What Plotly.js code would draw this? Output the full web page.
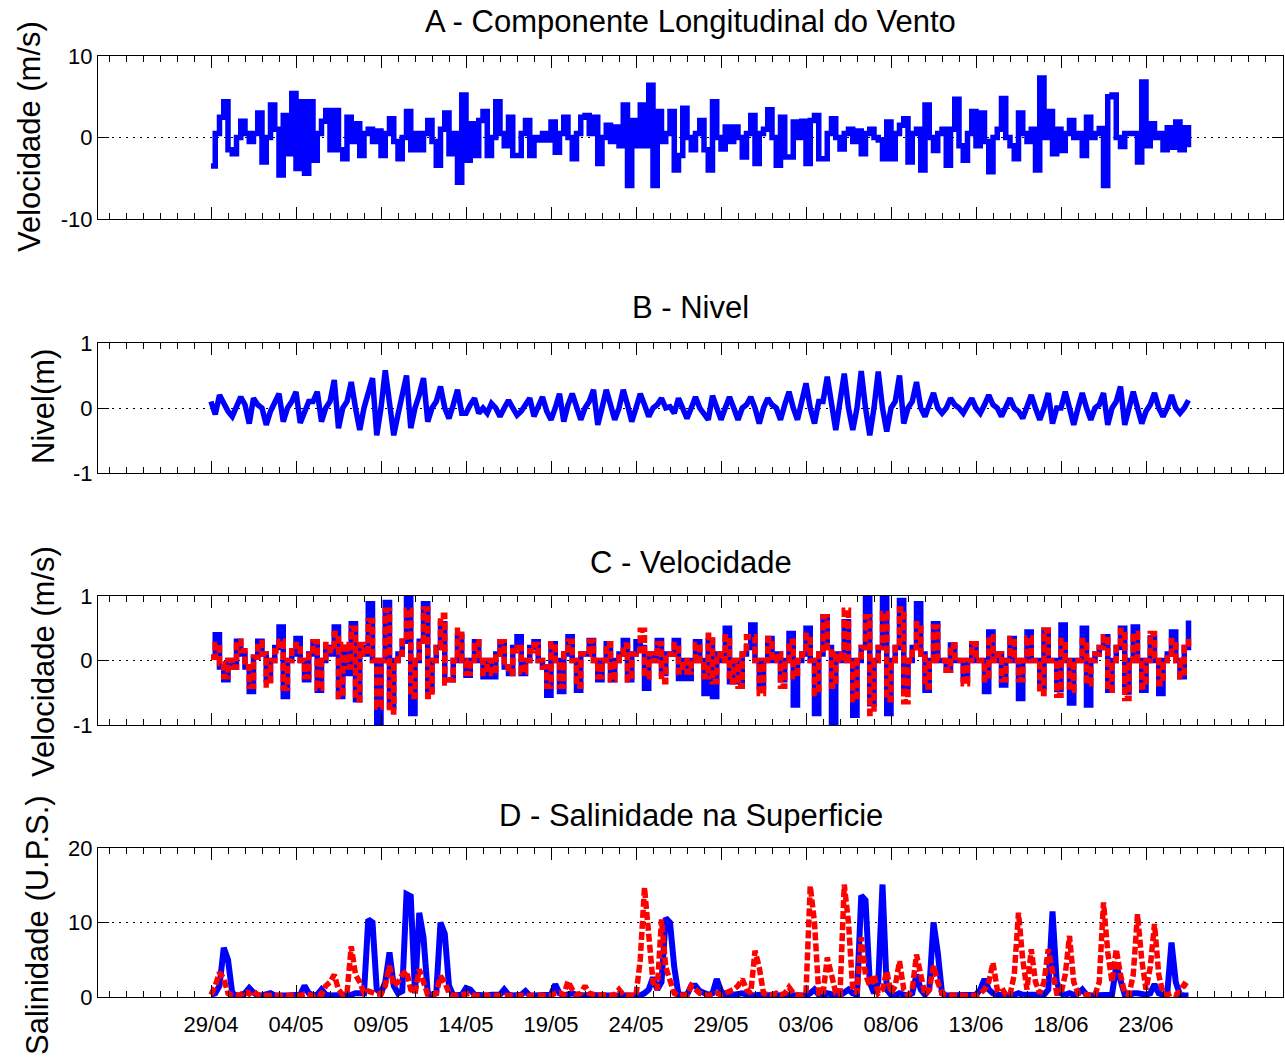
<!DOCTYPE html>
<html>
<head>
<meta charset="utf-8">
<script src="https://cdn.plot.ly/plotly-3.0.1.min.js"></script>
<style>
  html, body { margin: 0; padding: 0; background: #fff; }
  #chart { width: 1285px; height: 1060px; }
</style>
</head>
<body>
<div id="chart"></div>
<script>
// ---- Data (6-hourly samples starting 29/04 00:00) ----
const seriesStart = '2008-04-29 00:00:00';
const sampleHours = 6;

const tickDates = ['2008-04-29','2008-05-04','2008-05-09','2008-05-14','2008-05-19','2008-05-24',
                   '2008-05-29','2008-06-03','2008-06-08','2008-06-13','2008-06-18','2008-06-23'];
const tickLabels = ['29/04','04/05','09/05','14/05','19/05','24/05','29/05','03/06','08/06','13/06','18/06','23/06'];
const xRange = ['2008-04-22 08:28', '2008-07-01 01:25'];

const windTicks = [-10, 0, 10],   windTickText = ['-10', '0', '10'];
const levelTicks = [-1, 0, 1],    levelTickText = ['-1', '0', '1'];
const salTicks = [0, 10, 20],     salTickText = ['0', '10', '20'];

// A - wind longitudinal component (m/s)
const windSpeed = [
  -3.5, 0.5, 2.5, 4.4,   -1.5, -2, 0, 2,        0.5, -0.5, 0.5, 3,     -3, 0, 4, 1,
  -4.6, 2.7, -2, 5.4,    -3.8, 4.4, -4.4, 4.4,  -2.8, 0.5, 2, 3.3,     -1.5, 3.3, -1.5, -2.6,
  2.5, -0.5, 1.7, -2.2,  0.5, 1, -0.5, 0.8,     -2.2, 0.5, 2.3, -0.5,  -2.6, 0, 3.2, -1.5,
  0.5, -1.5, 0.5, 2.1,   -0.5, -3.4, 1, 3,      -2, 0.5, -5.5, 5.2,    -2.8, 1.7, -2.2, 2.1,
  3.2, -2.2, 0, 4.4,     0.5, -1, 2.5, -2.2,    -2.2, 0.5, 2.1, -2.2,  0, -0.3, 0.5, -0.3,
  1.9, -1.8, 0.5, 2.5,   0, -2.6, 0.5, 2.5,     2.7, 0.5, 2.5, -3.2,   0, 1.5, -0.5, 1.3,
  -1, 4, -5.9, 2.1,      -1, 4, -1, 6.4,        -5.9, 3.2, -0.5, 0.5,  3.2, -4, -2.2, 3.6,
  0, -1.5, 0.5, 2.1,     -1.5, -4, 4.4, 0,      -1.4, 1.3, -0.5, 1.3,  0, -2.4, 0.5, 2.7,
  -3.2, 0.5, 1, 3.4,     0, -3.4, 2.5, -2.4,    -2.4, 1.9, 0, 2,       -3.2, 2.1, 2.7, -2.6,
  -2.6, 0.5, 2.3, 0,     -1.4, 0.5, 1, -0.5,    0.8, -2, 0.5, 1,       0, -0.3, -2.6, 1.9,
  -2.6, 0.5, 1.5, 2.3,   -3, 0.5, 1, -4,        4, 0, -1.6, 0.5,       1, -3.4, 1, 4.7,
  -1, -2.8, 0.5, 3.2,    -1, 3, -0.5, -4.2,     0, 1, 4.8, 0,          -1, -2.6, 3, 0.5,
  -0.5, 1, -4, 7.3,      0, 3.2, -2, 1,         -1.6, 0.5, 2.1, 0,     0.5, -2.2, 2.5, 0,
  0.5, 1.1, -5.9, 5,     5.2, 0, -1.1, 0.5,     0.5, 0.5, -3, 6.8,     -1, 1.7, 0, 0.5,
  -1.5, 1.2, -1.2, 1.9,  -1.5, 1.2, -1.2
];

// B - water level (m)
const seaLevel = [
  0.1, -0.1, 0.2, 0.05,    -0.05, -0.13, 0.05, 0.17,  0.05, -0.24, 0.15, 0.05,  0.0, -0.26, -0.05, 0.1,
  0.22, -0.21, 0.0, 0.1,   0.25, -0.23, -0.05, 0.1,   0.1, 0.25, -0.21, 0.0,    0.1, 0.43, -0.31, 0.0,
  0.1, 0.4, 0.0, -0.34,    0.0, 0.2, 0.46, -0.42,     0.0, 0.58, 0.0, -0.42,    -0.1, 0.2, 0.5, -0.31,
  0.0, 0.2, 0.46, -0.21,   0.0, 0.1, 0.33, 0.0,       -0.16, 0.05, 0.28, -0.08, -0.08, 0.05, 0.15, -0.08,
  0.0, -0.08, 0.07, 0.0,   -0.13, 0.0, 0.12, 0.0,     -0.11, -0.05, 0.05, 0.15, -0.13, 0.05, 0.17, -0.05,
  -0.18, 0.0, 0.22, -0.21, 0.05, 0.22, 0.0, -0.18,    0.0, 0.1, 0.28, -0.26,    0.0, 0.28, 0.05, -0.18,
  0.0, 0.28, 0.05, -0.21,  0.0, 0.22, 0.05, -0.13,    0.0, 0.05, 0.15, 0.0,     0.02, -0.08, 0.15, 0.0,
  -0.16, 0.0, 0.17, 0.0,   -0.1, -0.18, 0.19, 0.0,    -0.18, 0.0, 0.17, 0.0,    -0.18, 0.0, 0.05, 0.17,
  0.0, -0.24, 0.0, 0.15,   0.05, 0.0, -0.18, 0.05,    0.25, 0.0, -0.18, 0.1,    0.38, 0.0, -0.24, 0.1,
  0.1, 0.48, 0.0, -0.34,   0.1, 0.53, 0.0, -0.34,     0.0, 0.57, 0.0, -0.42,    0.0, 0.56, 0.0, -0.36,
  0.0, 0.1, 0.5, -0.24,    0.0, 0.1, 0.4, 0.0,        -0.13, 0.05, 0.23, 0.0,   -0.08, 0.0, 0.15, 0.05,
  0.0, -0.08, 0.05, 0.15,  0.0, -0.08, 0.05, 0.2,     0.05, 0.0, -0.13, 0.0,    0.15, 0.0, -0.05, -0.16,
  0.0, 0.2, 0.0, -0.18,    0.0, 0.23, -0.24, 0.0,     0.0, 0.25, 0.0, -0.26,    0.0, 0.23, 0.0, -0.18,
  0.0, 0.05, 0.23, -0.26,  0.0, 0.1, 0.33, -0.26,     0.0, 0.25, 0.0, -0.24,    -0.05, 0.05, 0.23, 0.0,
  -0.13, 0.0, 0.2, 0.0,    -0.08, 0.0, 0.12
];

// C - current velocity (m/s): blue solid and red dashed series
const velocityBlue = [
  0.05, 0.4, -0.1, -0.3,   0.0, -0.1, 0.3, 0.1,     -0.1, -0.48, 0.05, 0.3,  0.1, -0.3, 0.0, 0.2,
  0.52, -0.56, 0.0, 0.1,   0.34, 0.0, -0.3, 0.1,    0.29, -0.46, 0.0, 0.2,   0.1, 0.52, -0.56, 0.2,
  -0.2, 0.57, -0.61, 0.2,  0.1, 0.88, 0.0, -1.0,    0.0, 0.9, -0.71, 0.0,    0.1, 0.3, 1.0, -0.82,
  0.0, 0.3, 0.88, -0.46,   0.0, 0.2, 0.57, -0.3,    -0.3, 0.0, 0.37, 0.0,    -0.23, 0.0, 0.29, 0.0,
  -0.25, 0.0, -0.25, 0.1,  0.29, -0.1, -0.2, 0.2,   0.37, -0.2, 0.0, 0.2,    0.29, 0.0, -0.1, -0.54,
  0.26, 0.0, -0.48, 0.1,   0.37, 0.0, -0.46, 0.1,   0.1, 0.31, 0.0, -0.3,    0.0, 0.26, -0.3, 0.0,
  0.1, 0.31, -0.3, 0.1,    0.29, 0.2, -0.43, 0.1,   0.0, 0.31, -0.2, 0.1,    0.1, 0.31, -0.28, 0.0,
  -0.28, 0.0, 0.29, 0.0,   -0.51, 0.31, -0.56, 0.1, 0.0, 0.5, -0.33, 0.0,    -0.33, 0.1, 0.2, 0.55,
  0.0, -0.41, 0.0, 0.34,   0.0, 0.1, -0.3, 0.0,     0.42, -0.69, 0.0, 0.1,   0.5, 0.0, -0.82, 0.1,
  0.68, 0.2, -1.0, 0.1,    0.0, 0.6, 0.0, -0.85,    0.0, 0.2, 1.0, -0.67,    0.0, 0.2, 1.0, -0.82,
  0.0, 0.2, 0.93, -0.41,   0.0, 0.2, 0.88, 0.1,     -0.46, 0.0, 0.57, 0.0,   0.0, -0.15, 0.24, 0.0,
  0.0, -0.3, 0.0, 0.26,    0.0, 0.0, -0.48, 0.44,   0.0, 0.1, -0.38, 0.0,    0.34, 0.0, -0.59, 0.0,
  0.44, 0.0, 0.0, -0.41,   0.47, 0.0, 0.0, -0.45,   0.55, 0.0, -0.66, 0.0,   0.0, 0.5, -0.69, 0.0,
  0.1, 0.2, 0.37, -0.46,   0.0, 0.2, 0.5, -0.49,    0.0, 0.52, 0.0, -0.46,   0.0, 0.35, 0.0, -0.51,
  0.0, 0.1, 0.44, 0.0,     -0.25, 0.2, 0.62
];
const velocityRed = [
  0.05, 0.25, -0.05, -0.25, 0.0, -0.1, 0.3, 0.15,   -0.1, -0.4, 0.05, 0.28,  0.1, -0.38, 0.0, 0.15,
  0.3, -0.43, 0.0, 0.15,   0.25, 0.0, -0.25, 0.15,  0.29, -0.43, 0.0, 0.25,  0.15, 0.42, -0.56, 0.25,
  -0.1, 0.5, -0.61, 0.25,  0.1, 0.62, 0.0, -0.72,   0.0, 0.78, -0.8, 0.0,    0.1, 0.3, 0.78, -0.56,
  0.0, 0.3, 0.8, -0.56,    0.0, 0.2, 0.7, -0.35,    -0.3, 0.0, 0.47, 0.0,    -0.2, 0.0, 0.29, 0.0,
  -0.2, 0.0, -0.2, 0.1,    0.29, -0.1, -0.2, 0.15,  0.2, -0.18, 0.0, 0.15,   0.25, 0.0, -0.1, -0.4,
  0.26, 0.0, -0.4, 0.1,    0.3, 0.0, -0.4, 0.1,     0.1, 0.3, 0.0, -0.25,    0.0, 0.26, -0.3, 0.0,
  0.1, 0.24, -0.3, 0.1,    0.15, 0.47, -0.25, 0.1,  0.0, 0.26, -0.33, 0.1,   0.1, 0.25, -0.18, 0.0,
  -0.18, 0.0, 0.25, 0.0,   -0.25, 0.39, -0.33, 0.1, 0.0, 0.37, -0.33, 0.0,   -0.4, 0.1, 0.37, 0.37,
  0.0, -0.51, 0.0, 0.34,   0.0, 0.1, -0.4, 0.0,     0.3, -0.25, 0.0, 0.1,    0.39, 0.0, -0.51, 0.1,
  0.68, 0.2, -0.4, 0.1,    0.0, 0.78, 0.0, -0.61,   0.0, 0.2, 0.68, -0.82,   0.0, 0.2, 0.73, -0.61,
  0.0, 0.2, 0.8, -0.64,    0.0, 0.2, 0.57, 0.1,     -0.41, 0.0, 0.52, 0.0,   0.0, -0.15, 0.24, 0.0,
  0.0, -0.36, 0.0, 0.26,   0.0, 0.0, -0.3, 0.37,    0.0, 0.1, -0.3, 0.0,     0.34, 0.0, -0.3, 0.0,
  0.35, 0.0, 0.0, -0.51,   0.47, 0.0, 0.0, -0.54,   0.31, 0.0, -0.46, 0.0,   0.0, 0.31, -0.36, 0.0,
  0.1, 0.2, 0.37, -0.46,   0.0, 0.2, 0.47, -0.59,   0.0, 0.42, 0.0, -0.41,   0.0, 0.42, 0.0, -0.36,
  0.0, 0.1, 0.31, 0.0,     -0.25, 0.2, 0.34
];

// D - surface salinity (U.P.S.): blue solid and red dashed series
const salinityBlue = [
  0.3, 0.5, 1.5, 6.6,   5, 0.5, 0.2, 0.2,      0.5, 1.2, 0.6, 0.2,    0.2, 0.3, 0.5, 0.2,
  0.3, 0.2, 0.2, 0.3,   0.2, 0.3, 1.5, 0.5,    0.2, 0.3, 1.0, 0.3,    0.2, 0.2, 0.3, 0.2,
  0.2, 0.3, 0.5, 0.4,   0.5, 10.4, 10.0, 1.0,  0.5, 2.0, 6.0, 1.5,    0.5, 0.8, 13.8, 13.5,
  0.5, 11.3, 8.0, 0.5,  0.3, 0.5, 10.0, 8.5,   1.5, 0.2, 0.2, 0.3,    1.2, 1.0, 0.3, 0.2,
  0.2, 0.2, 0.3, 0.2,   0.3, 1.0, 0.3, 0.2,    0.2, 0.3, 0.8, 0.2,    0.2, 0.2, 0.3, 0.2,
  0.3, 1.7, 0.5, 0.2,   0.3, 0.5, 0.3, 0.2,    0.2, 0.3, 0.2, 0.2,    0.2, 0.2, 0.3, 0.2,
  0.2, 0.3, 0.2, 0.2,   0.2, 0.2, 0.5, 1.0,    2.6, 1.0, 2.0, 10.6,   10.0, 4.0, 0.3, 0.2,
  0.3, 1.5, 1.5, 0.8,   0.5, 0.3, 0.5, 2.4,    0.8, 0.3, 0.2, 0.3,    0.3, 0.5, 0.3, 0.2,
  0.2, 0.3, 0.2, 0.2,   0.3, 0.2, 0.2, 0.3,    0.2, 0.3, 0.2, 0.2,    0.2, 0.5, 1.0, 0.3,
  0.2, 0.5, 0.3, 0.2,   0.2, 0.5, 1.0, 0.5,    0.3, 13.6, 13.0, 2.0,  0.5, 2.0, 15.1, 1.0,
  0.3, 0.2, 0.5, 0.3,   0.2, 0.5, 3.0, 1.0,    0.3, 1.0, 10.0, 6.0,   0.5, 0.2, 0.2, 0.3,
  0.2, 0.3, 0.2, 0.2,   0.3, 1.0, 2.4, 1.0,    0.5, 0.3, 0.2, 0.2,    0.2, 0.3, 0.5, 0.3,
  0.3, 0.5, 0.3, 0.2,   0.3, 1.0, 11.5, 2.0,   0.5, 0.3, 0.5, 0.3,    0.5, 1.0, 0.3, 0.2,
  0.2, 0.3, 0.3, 0.2,   0.3, 4.2, 2.0, 0.3,    0.2, 0.5, 0.5, 0.3,    0.3, 0.5, 1.7, 0.5,
  0.3, 0.5, 7.3, 2.0,   0.3, 0.2, 0.2
];
const salinityRed = [
  0.3, 1.5, 3.3, 2.5,   0.5, 0.2, 0.2, 0.3,    0.8, 0.4, 0.8, 0.3,    0.2, 0.2, 0.3, 0.2,
  0.2, 0.3, 0.2, 0.2,   0.2, 0.2, 0.4, 0.3,    0.2, 0.5, 0.3, 1.5,    2.0, 3.0, 1.0, 0.3,
  0.5, 6.8, 3.0, 2.0,   0.5, 0.8, 0.6, 0.4,    0.4, 1.5, 4.2, 1.5,    2.0, 3.0, 3.5, 1.0,
  0.5, 3.7, 2.0, 0.3,   0.2, 0.5, 2.8, 2.0,    0.5, 0.2, 0.2, 0.3,    0.3, 0.5, 0.2, 0.2,
  0.2, 0.3, 0.2, 0.2,   0.2, 0.3, 0.2, 0.2,    0.2, 0.2, 0.3, 0.2,    0.3, 0.2, 0.2, 0.3,
  0.2, 0.5, 0.6, 0.3,   2.1, 1.0, 0.3, 0.5,    1.5, 0.5, 0.3, 0.2,    0.3, 0.2, 0.2, 0.3,
  1.0, 0.3, 0.2, 0.2,   0.2, 5.0, 14.7, 8.0,   2.0, 1.0, 10.4, 4.0,   2.0, 0.5, 0.2, 0.2,
  0.3, 1.5, 1.0, 0.5,   0.3, 0.2, 0.3, 0.5,    0.3, 0.5, 0.8, 1.0,    1.5, 2.4, 1.0, 0.5,
  6.2, 4.0, 0.5, 0.3,   0.3, 0.5, 0.3, 0.5,    1.3, 0.5, 0.3, 0.2,    0.5, 14.9, 10.0, 0.5,
  0.3, 5.3, 3.0, 0.5,   0.3, 15.1, 10.0, 1.0,  0.5, 8.0, 3.0, 1.5,    3.0, 0.5, 1.0, 3.5,
  0.5, 1.5, 4.8, 1.0,   0.2, 1.0, 5.7, 3.0,    0.3, 1.0, 4.2, 2.0,    0.5, 0.3, 0.2, 0.2,
  0.2, 0.2, 0.3, 0.2,   0.2, 0.5, 1.0, 2.0,    4.6, 1.0, 1.3, 0.3,    0.3, 3.0, 11.3, 5.0,
  1.0, 6.4, 2.0, 0.5,   2.0, 6.4, 3.0, 0.5,    0.5, 3.0, 8.2, 2.0,    0.5, 0.5, 0.3, 0.2,
  0.3, 2.0, 12.7, 6.0,  2.0, 6.4, 3.0, 0.5,    0.3, 3.0, 11.1, 5.0,   1.0, 4.0, 9.8, 3.0,
  0.5, 0.3, 0.5, 0.3,   0.8, 1.7, 1.3
];

// ---- Build time stamps for the samples ----
function timesFor(n) {
  const t0 = Date.parse(seriesStart.replace(' ', 'T') + 'Z');
  const out = [];
  for (let i = 0; i < n; i++) {
    out.push(new Date(t0 + i * sampleHours * 3600000).toISOString().slice(0, 19).replace('T', ' '));
  }
  return out;
}

const BLUE = '#0000ff', RED = '#ff0000';
const redDash = '8px,3px';

function lineTrace(y, xa, ya, color, width, shape, dash) {
  const ln = { color: color, width: width, shape: shape };
  if (dash) ln.dash = dash;
  return { x: timesFor(y.length), y: y, xaxis: xa, yaxis: ya, mode: 'lines', line: ln, hoverinfo: 'skip' };
}

const traces = [
  lineTrace(windSpeed, 'x', 'y', BLUE, 5.5, 'hv'),
  lineTrace(seaLevel, 'x2', 'y2', BLUE, 5.5, 'linear'),
  lineTrace(velocityBlue, 'x3', 'y3', BLUE, 5.5, 'hv'),
  lineTrace(velocityRed, 'x3', 'y3', RED, 5.5, 'hv', redDash),
  lineTrace(salinityBlue, 'x4', 'y4', BLUE, 6, 'linear'),
  lineTrace(salinityRed, 'x4', 'y4', RED, 5.5, 'linear', redDash)
];

const FONT = 'Liberation Sans, Arial, Helvetica, sans-serif';
const H = 1060;
function dom(topPx, botPx) { return [1 - botPx / H, 1 - topPx / H]; }

function xAxis(anchor, showLabels) {
  return {
    type: 'date', range: xRange, domain: [0, 1], anchor: anchor,
    tickmode: 'array', tickvals: tickDates, ticktext: tickLabels,
    showticklabels: showLabels, tickfont: { family: FONT, size: 22, color: '#000' },
    ticklabelstandoff: 8,
    ticks: 'inside', ticklen: 12, tickwidth: 1, tickcolor: '#000',
    minor: { ticks: 'inside', ticklen: 6, tickwidth: 1, tickcolor: '#000', dtick: 86400000, tick0: '2008-04-29', showgrid: false },
    showline: true, linecolor: '#000', linewidth: 1, mirror: 'ticks',
    showgrid: false, zeroline: false, fixedrange: true
  };
}
function yAxis(anchor, domain, range, tickvals, ticktext) {
  return {
    domain: domain, anchor: anchor, range: range, tickmode: 'array', tickvals: tickvals, ticktext: ticktext,
    tickfont: { family: FONT, size: 22, color: '#000' },
    ticks: 'inside', ticklen: 11, tickwidth: 1, tickcolor: '#000',
    showline: true, linecolor: '#000', linewidth: 1, mirror: 'ticks',
    showgrid: true, gridcolor: '#000', gridwidth: 1, griddash: '2px,5px',
    zeroline: false, fixedrange: true
  };
}

const PW = 1185, L = 98;
function px2paperX(px) { return (px - L) / PW; }
function px2paperY(py) { return 1 - py / H; }

const titleFont = { family: FONT, size: 31, color: '#000' };
const annotations = [
  { text: 'A - Componente Longitudinal do Vento', x: 0.5, y: px2paperY(22) },
  { text: 'B - Nivel', x: 0.5, y: px2paperY(308) },
  { text: 'C - Velocidade', x: 0.5, y: px2paperY(562) },
  { text: 'D - Salinidade na Superficie', x: 0.5, y: px2paperY(815) }
].map(a => Object.assign({ xref: 'paper', yref: 'paper', showarrow: false, xanchor: 'center', yanchor: 'middle', font: titleFont }, a));

[
  { text: 'Velocidade (m/s)', x: px2paperX(29), y: px2paperY(137) },
  { text: 'Nivel(m)', x: px2paperX(43), y: px2paperY(407) },
  { text: 'Velocidade (m/s)', x: px2paperX(43), y: px2paperY(662) },
  { text: 'Salinidade (U.P.S.)', x: px2paperX(37), y: px2paperY(925) }
].forEach(a => annotations.push(Object.assign({ xref: 'paper', yref: 'paper', showarrow: false, textangle: -90,
  xanchor: 'center', yanchor: 'middle', font: titleFont }, a)));

const layout = {
  width: 1285, height: 1060,
  margin: { l: L, r: 2, t: 0, b: 0, pad: 0, autoexpand: false },
  paper_bgcolor: '#fff', plot_bgcolor: '#fff',
  showlegend: false,
  font: { family: FONT, color: '#000' },
  xaxis: xAxis('y', false),
  xaxis2: xAxis('y2', false),
  xaxis3: xAxis('y3', false),
  xaxis4: xAxis('y4', true),
  yaxis: yAxis('x', dom(56, 219), [-10, 10], windTicks, windTickText),
  yaxis2: yAxis('x2', dom(343, 473), [-1, 1], levelTicks, levelTickText),
  yaxis3: yAxis('x3', dom(596, 725), [-1, 1], levelTicks, levelTickText),
  yaxis4: yAxis('x4', dom(848, 997), [0, 20], salTicks, salTickText),
  annotations: annotations
};

Plotly.newPlot('chart', traces, layout, { staticPlot: true, displayModeBar: false });
</script>
</body>
</html>
